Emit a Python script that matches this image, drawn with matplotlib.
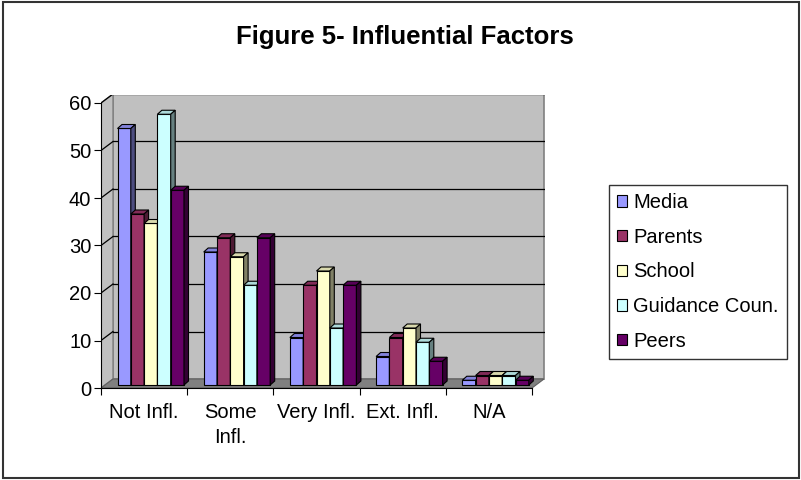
import numpy as np
import matplotlib.pyplot as plt
from matplotlib.patches import Polygon, Rectangle
from matplotlib.colors import to_rgb

plt.rcParams['font.family'] = ['Liberation Sans', 'DejaVu Sans']

# Данные
categories = ['Not Infl.', 'Some\nInfl.', 'Very Infl.', 'Ext. Infl.', 'N/A']
series = ['Media', 'Parents', 'School', 'Guidance Coun.', 'Peers']
media = [54, 28, 10, 6, 1]
parents = [36, 31, 21, 10, 2]
school = [34, 27, 24, 12, 2]
guidance = [57, 21, 12, 9, 2]
peers = [41, 31, 21, 5, 1]
colors = ['#9999FF', '#993366', '#FFFFCC', '#CCFFFF', '#660066']

values = [media, parents, school, guidance, peers]

fig = plt.figure(figsize=(8.01, 4.8), dpi=100)
W, H = 801, 480

# рамка вокруг всей диаграммы
fig.patches.append(Rectangle((3 / W, 2 / H), 796 / W, 476 / H, transform=fig.transFigure,
                             fill=False, edgecolor='#333333', linewidth=1.5))

fig.text(405 / W, 1 - 37 / H, 'Figure 5- Influential Factors', ha='center', va='center',
         fontsize=18.5, fontweight='bold')

ax = fig.add_axes([101 / W, 1 - 388 / H, 444 / W, 293 / H])
px_x = 86.2   # пикселей на категорию
px_y = 4.75   # пикселей на единицу
ax.set_xlim(0, 444 / px_x)
ax.set_ylim(0, 293 / px_y)

dx, dy = 12 / px_x, 9 / px_y     # глубина стенки
ymax = 60

# задняя и боковая стенки, пол
ax.add_patch(Polygon([(dx, dy), (5 + dx, dy), (5 + dx, ymax + dy), (dx, ymax + dy)],
                     closed=True, facecolor='#C0C0C0', edgecolor='#808080', linewidth=1.2, zorder=0))
ax.add_patch(Polygon([(0, 0), (dx, dy), (dx, ymax + dy), (0, ymax)],
                     closed=True, facecolor='#C0C0C0', edgecolor='#808080', linewidth=1, zorder=0))
ax.add_patch(Polygon([(0, 0), (5, 0), (5 + dx, dy), (dx, dy)],
                     closed=True, facecolor='#808080', edgecolor='#606060', linewidth=0.8, zorder=1))

# линии сетки
for v in range(10, ymax + 1, 10):
    ax.plot([dx, 5 + dx], [v + dy, v + dy], color='black', linewidth=0.9, zorder=1)
    ax.plot([0, dx], [v, v + dy], color='black', linewidth=0.9, zorder=1)

# столбцы с псевдо-3D гранями
bw = 13.3 / px_x
start = 15 / px_x
ddx, ddy = 4.5 / px_x, 4 / px_y
bx, by = 1.5 / px_x, 3 / px_y
handles = []
z = 2
for i in range(len(categories)):
    for k, vals in enumerate(values):
        c = np.array(to_rgb(colors[k]))
        x0 = i + start + k * bw + bx
        v = vals[i]
        b = ax.bar(x0, v, width=bw, bottom=by, align='edge', color=colors[k],
                   edgecolor='black', linewidth=0.8, zorder=z)
        top = Polygon([(x0, v + by), (x0 + bw, v + by), (x0 + bw + ddx, v + by + ddy), (x0 + ddx, v + by + ddy)],
                      closed=True, facecolor=c * 0.85, edgecolor='black', linewidth=0.8, zorder=z)
        side = Polygon([(x0 + bw, by), (x0 + bw + ddx, by + ddy), (x0 + bw + ddx, v + by + ddy), (x0 + bw, v + by)],
                       closed=True, facecolor=c * 0.5, edgecolor='black', linewidth=0.8, zorder=z)
        ax.add_patch(top)
        ax.add_patch(side)
        z += 1
        if i == 0:
            handles.append(b)

# оси
for s in ['top', 'right']:
    ax.spines[s].set_visible(False)
ax.patch.set_visible(False)
ax.spines['left'].set_bounds(0, ymax)
ax.spines['bottom'].set_bounds(0, 5)
ax.spines['left'].set_zorder(50)
ax.spines['bottom'].set_zorder(50)
ax.set_yticks(range(0, ymax + 1, 10))
ax.tick_params(axis='y', labelsize=14.5, length=5, direction='out', pad=2)
ax.set_xticks(range(0, 6))
ax.set_xticklabels([])
ax.tick_params(axis='x', length=5, direction='out')
ax.set_xticks(np.arange(0.5, 5, 1), minor=True)
ax.set_xticklabels(categories, minor=True, fontsize=14.5, va='top', linespacing=1.35)
ax.tick_params(axis='x', which='minor', length=0, pad=11)

leg = fig.legend(handles, series, loc='upper left', bbox_to_anchor=(609 / W, 1 - 185 / H),
                 fontsize=14.5, frameon=True, fancybox=False, edgecolor='black',
                 handlelength=0.5, handleheight=0.5, handletextpad=0.3,
                 labelspacing=0.78, borderpad=0.4, borderaxespad=0)
leg.get_frame().set_linewidth(1)

fig.savefig('out.png', dpi=100)
